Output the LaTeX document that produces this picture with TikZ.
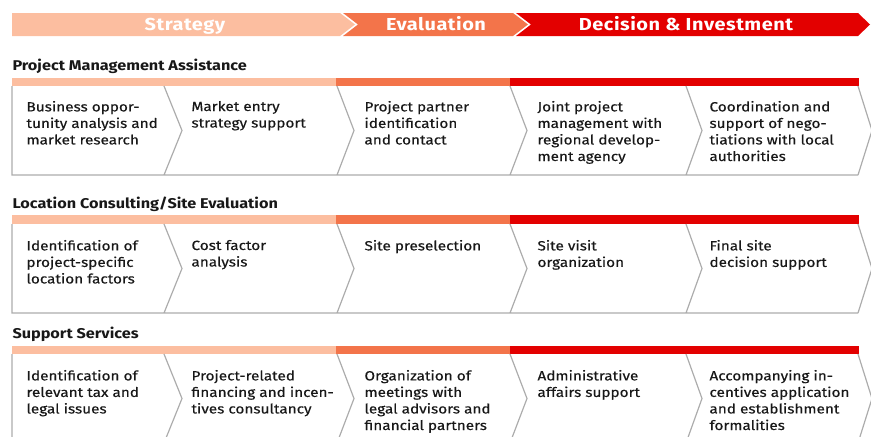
\documentclass[tikz,border=0pt]{standalone}
\usepackage{fontspec}
\setmainfont{Fira Sans}[FakeStretch=1.15]
\definecolor{stratcol}{RGB}{252,190,160}
\definecolor{evalcol}{RGB}{243,116,74}
\definecolor{decicol}{RGB}{227,0,0}
\definecolor{rimcol}{RGB}{172,172,172}
\definecolor{inkcol}{RGB}{24,24,24}

\tikzset{every picture/.style={line width=0.75pt}}

\begin{document}
\begin{tikzpicture}[x=0.75pt,y=0.75pt,yscale=-1,xscale=1,
  phase/.style={font=\bfseries\fontsize{13}{15}\selectfont\addfontfeature{LetterSpace=3}, text=white, inner sep=0, anchor=base},
  rowtitle/.style={font=\bfseries\fontsize{10.6}{12}\selectfont, text=inkcol, anchor=base west, inner sep=0},
  cell/.style={font=\fontsize{10}{12.4}\selectfont\addfontfeature{FakeBold=0.35}, text=inkcol, anchor=north west, inner sep=0, align=left},
  chev/.style={draw=rimcol, line width=0.9pt}]
%set diagram frame: 871 x 436
\path [use as bounding box, clip] (0,0) rectangle (871,436);

%Shape: Phase Arrow [id:strategy]
\fill [stratcol] (12,13) -- (340,13) -- (355,24.5) -- (340,36) -- (12,36) -- cycle ;
%Shape: Phase Arrow [id:evaluation]
\fill [evalcol] (343,13) -- (513,13) -- (528,24.5) -- (513,36) -- (343,36) -- (358,24.5) -- cycle ;
%Shape: Phase Arrow [id:decision]
\fill [decicol] (516,13) -- (858,13) -- (870,24.5) -- (858,36) -- (516,36) -- (531,24.5) -- cycle ;

% Text Node
\node [phase] (strategy) at (185,30) {Strategy};
% Text Node
\node [phase] (evaluation) at (436,30) {Evaluation};
% Text Node
\node [phase] (decision) at (686,30) {Decision \& Investment};

%Row 1: Project Management Assistance
\node [rowtitle] (pmatitle) at (12,70) {Project Management Assistance};
\fill [stratcol] (12,78) rectangle (336,86) ;
\fill [evalcol] (336,78) rectangle (510,86) ;
\fill [decicol] (510,78) rectangle (859,86) ;
\draw [chev] (12,86) -- (12,175) -- (858,175)
  (164,86) -- (182,130.5) -- (164,175)
  (337,86) -- (354,130.5) -- (337,175)
  (510,86) -- (527,130.5) -- (510,175)
  (686,86) -- (702,130.5) -- (686,175)
  (858,86) -- (872,130.5) -- (858,175) ;

% Text Node
\node [cell] (pma1) at (26,100.5) {Business oppor-\\tunity analysis and\\market research};
% Text Node
\node [cell] (pma2) at (191,100.5) {Market entry\\strategy support};
% Text Node
\node [cell] (pma3) at (364,100.5) {Project partner\\identification\\and contact};
% Text Node
\node [cell] (pma4) at (537,100.5) {Joint project\\management with\\regional develop-\\ment agency};
% Text Node
\node [cell] (pma5) at (709,100.5) {Coordination and\\support of nego-\\tiations with local\\authorities};

%Row 2: Location Consulting/Site Evaluation
\node [rowtitle] (lcstitle) at (12,208) {Location Consulting/Site Evaluation};
\fill [stratcol] (12,215) rectangle (336,224) ;
\fill [evalcol] (336,215) rectangle (510,224) ;
\fill [decicol] (510,215) rectangle (859,224) ;
\draw [chev] (12,224) -- (12,313) -- (858,313)
  (164,224) -- (182,268.5) -- (164,313)
  (337,224) -- (354,268.5) -- (337,313)
  (510,224) -- (527,268.5) -- (510,313)
  (686,224) -- (702,268.5) -- (686,313)
  (858,224) -- (872,268.5) -- (858,313) ;

% Text Node
\node [cell] (lcs1) at (26,239.5) {Identification of\\project-specific\\location factors};
% Text Node
\node [cell] (lcs2) at (191,239.5) {Cost factor\\analysis};
% Text Node
\node [cell] (lcs3) at (364,239.5) {Site preselection};
% Text Node
\node [cell] (lcs4) at (537,239.5) {Site visit\\organization};
% Text Node
\node [cell] (lcs5) at (709,239.5) {Final site\\decision support};

%Row 3: Support Services
\node [rowtitle] (sstitle) at (12,338) {Support Services};
\fill [stratcol] (12,346) rectangle (336,354) ;
\fill [evalcol] (336,346) rectangle (510,354) ;
\fill [decicol] (510,346) rectangle (859,354) ;
\draw [chev] (12,354) -- (12,443) -- (858,443)
  (164,354) -- (182,398.5) -- (164,443)
  (337,354) -- (354,398.5) -- (337,443)
  (510,354) -- (527,398.5) -- (510,443)
  (686,354) -- (702,398.5) -- (686,443)
  (858,354) -- (872,398.5) -- (858,443) ;

% Text Node
\node [cell] (ss1) at (26,369.5) {Identification of\\relevant tax and\\legal issues};
% Text Node
\node [cell] (ss2) at (191,369.5) {Project-related\\financing and incen-\\tives consultancy};
% Text Node
\node [cell] (ss3) at (364,369.5) {Organization of\\meetings with\\legal advisors and\\financial partners};
% Text Node
\node [cell] (ss4) at (537,369.5) {Administrative\\affairs support};
% Text Node
\node [cell] (ss5) at (709,369.5) {Accompanying in-\\centives application\\and establishment\\formalities};

\end{tikzpicture}
\end{document}
